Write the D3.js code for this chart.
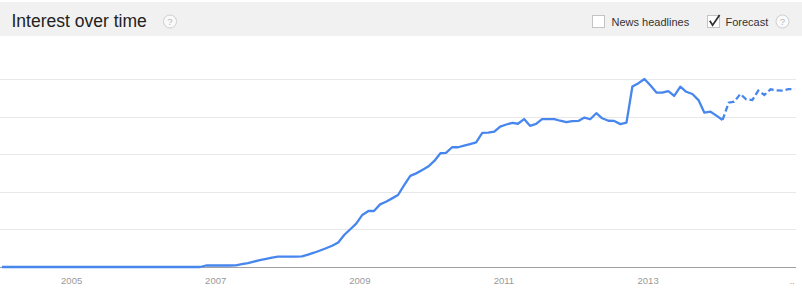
<!DOCTYPE html>
<html>
<head>
<meta charset="utf-8">
<script src="https://cdn.jsdelivr.net/npm/d3@7/dist/d3.min.js"></script>
<style>
  html, body { margin: 0; padding: 0; background: #fff; }
  svg { display: block; font-family: Arial, "Liberation Sans", sans-serif; }
</style>
</head>
<body>
<svg id="chart" width="802" height="293"></svg>
<script>
// ---- data ----
const firstMonth = [2004, 0]; // Jan 2004, monthly points
// Actual search interest, Jan 2004 .. Jan 2014
const interest = [
  0,0,0,0,0,0,0,0,0,0,0,0,
  0,0,0,0,0,0,0,0,0,0,0,0,
  0,0,0,0,0,0,0,0,0,0,0.8,0.8,
  0.8,0.8,0.8,0.9,1.5,2.1,2.9,3.7,4.3,5.0,5.5,5.5,
  5.5,5.5,5.6,6.6,7.6,8.8,10.0,11.3,13.0,17.0,20.1,23.1,
  27.7,29.8,29.8,33.3,34.7,36.5,38.3,43.5,48.5,49.8,51.6,53.4,
  56.4,60.5,60.7,63.7,63.7,64.6,65.4,66.3,71.3,71.5,72.0,74.7,
  75.8,76.7,76.2,78.7,75.1,76.1,78.7,78.7,78.7,77.8,77.0,77.6,
  77.7,79.5,78.6,81.8,79.1,77.8,77.7,76.0,76.8,96.0,97.8,100,
  96.5,92.7,92.7,93.6,91.0,95.9,93.2,92.0,88.8,82.1,82.6,80.5,
  78.2
];
// Forecast, Jan 2014 .. Jan 2015
const forecast = [78.2,87.4,87.9,92.0,89.2,88.8,93.8,91.5,94.5,94.0,93.8,94.6,94.7];
const forecastStart = interest.length - 1;
const yearTicks = [2005, 2007, 2009, 2011, 2013, 2015];
const yearLabels = ["2005", "2007", "2009", "2011", "2013", ".."];
const gridValues = [20, 40, 60, 80, 100];

// ---- layout ----
const W = 802, H = 293;
const plotLeft = 0, plotRight = 796;
const baseY = 267, topY = 79;

const svg = d3.select("#chart");
svg.append("rect").attr("width", W).attr("height", H).attr("fill", "#fff");

// header band
svg.append("rect").attr("x", 0).attr("y", 2).attr("width", W).attr("height", 34).attr("fill", "#f1f1f1");
svg.append("text").attr("x", 11.5).attr("y", 27).attr("font-size", "17.5px").attr("fill", "#222")
  .text("Interest over time");

function helpIcon(cx, cy) {
  svg.append("circle").attr("cx", cx).attr("cy", cy).attr("r", 6.5)
    .attr("fill", "#fafafa").attr("stroke", "#cfcfcf").attr("stroke-width", 1);
  svg.append("text").attr("x", cx).attr("y", cy + 3.5).attr("text-anchor", "middle")
    .attr("font-size", "9.5px").attr("fill", "#b5b5b5").text("?");
}
helpIcon(170, 21.5);
helpIcon(782.5, 21.5);

// legend checkboxes
svg.append("rect").attr("x", 592.5).attr("y", 15.5).attr("width", 12).attr("height", 12)
  .attr("fill", "#fff").attr("stroke", "#c4c4c4");
svg.append("text").attr("x", 611.5).attr("y", 26).attr("font-size", "11px").attr("fill", "#333")
  .text("News headlines");
svg.append("rect").attr("x", 707.5).attr("y", 15.5).attr("width", 12).attr("height", 12)
  .attr("fill", "#fff").attr("stroke", "#c4c4c4");
svg.append("path").attr("d", "M709.8,20.8 L712.6,25.2 L719.6,15")
  .attr("fill", "none").attr("stroke", "#333").attr("stroke-width", 1.8);
svg.append("text").attr("x", 725.5).attr("y", 26).attr("font-size", "11px").attr("fill", "#333")
  .text("Forecast");

// ---- scales ----
const x = d3.scaleTime()
  .domain([new Date(2004, 0, 1), new Date(2015, 0, 1)])
  .range([-1.06, 791.6]);
const y = d3.scaleLinear().domain([0, 100]).range([baseY, topY]);

const monthDate = i => new Date(firstMonth[0], firstMonth[1] + i, 16);

// grid
const grid = svg.append("g").attr("transform", `translate(${plotLeft},0)`)
  .call(d3.axisLeft(y).tickValues(gridValues).tickSize(-(plotRight - plotLeft)).tickFormat(""));
grid.select(".domain").remove();
grid.selectAll(".tick line").attr("stroke", "#e8e8e8").attr("shape-rendering", "crispEdges");

// x axis
const xAxis = svg.append("g").attr("transform", `translate(0,${baseY})`)
  .call(d3.axisBottom(x)
    .tickValues(yearTicks.map(yr => new Date(yr, 0, 1)))
    .tickSize(0).tickPadding(10)
    .tickFormat((d, i) => yearLabels[i]));
xAxis.select(".domain").attr("d", `M${plotLeft},0.5H${plotRight}`)
  .attr("stroke", "#a0a0a0").attr("stroke-width", 1);
xAxis.selectAll(".tick text").attr("font-size", "9.5px").attr("fill", "#999")
  .attr("font-family", "Arial, 'Liberation Sans', sans-serif");

// clip
svg.append("clipPath").attr("id", "clip").append("rect")
  .attr("x", plotLeft).attr("y", 40).attr("width", plotRight - plotLeft + 1).attr("height", baseY - 38);

const line = d3.line().x(d => x(d.date)).y(d => y(d.v));
const actualData = interest.map((v, i) => ({ date: monthDate(i), v }));
const forecastData = forecast.map((v, i) => ({ date: monthDate(forecastStart + i), v }));

const g = svg.append("g").attr("clip-path", "url(#clip)");
g.append("path").datum(actualData).attr("d", line)
  .attr("fill", "none").attr("stroke", "#4787ed").attr("stroke-width", 2.3)
  .attr("stroke-linejoin", "round");
g.append("path").datum(forecastData).attr("d", line)
  .attr("fill", "none").attr("stroke", "#4787ed").attr("stroke-width", 2.3)
  .attr("stroke-dasharray", "6,3");
</script>
</body>
</html>
